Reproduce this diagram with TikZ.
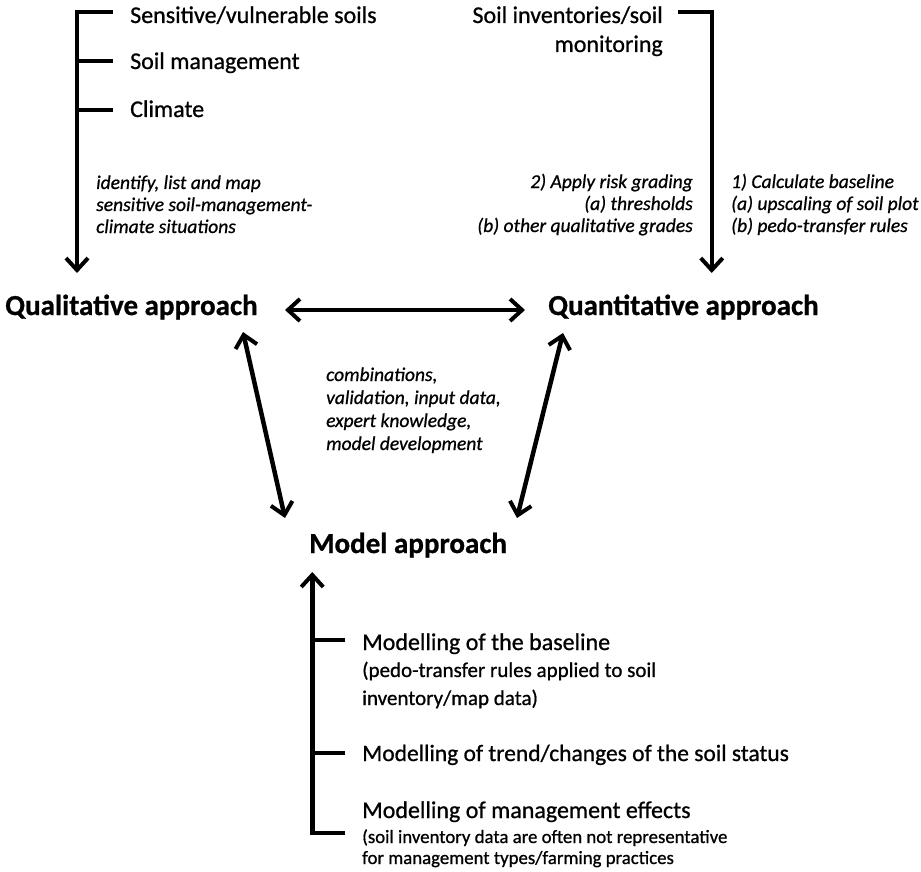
\documentclass[tikz,border=0pt]{standalone}
\usepackage{fontspec}
\setmainfont{Carlito}[UprightFeatures={FakeBold=0.8},ItalicFeatures={FakeBold=0.8},BoldFeatures={FakeBold=0.8}]
\usetikzlibrary{arrows.meta}
\tikzset{
  ln/.style={line width=4.5pt},
  barb/.tip={Straight Barb[length=12pt,width=22pt,line width=4pt]},
  arr/.style={ln,-barb},
  darr/.style={ln,barb-barb},
  item/.style={anchor=base west,inner sep=0pt,font=\fontsize{24}{29}\selectfont},
  iteme/.style={item,anchor=base east},
  head/.style={anchor=base west,inner sep=0pt,font=\fontsize{29}{34}\selectfont\bfseries},
  lab/.style={anchor=base west,inner sep=0pt,font=\fontsize{19.5}{23}\selectfont\itshape},
  labe/.style={lab,anchor=base east},
  small/.style={anchor=base west,inner sep=0pt,font=\fontsize{21}{28}\selectfont},
  tiny/.style={anchor=base west,inner sep=0pt,font=\fontsize{18.8}{22}\selectfont},
}
\begin{document}
\begin{tikzpicture}[x=1pt,y=-1pt]
\useasboundingbox (0,0) rectangle (921,872);
% top-left
\node[item] (sens) at (130,23) {Sensitive/vulnerable soils};
\node[item] (mgmt) at (130,69) {Soil management};
\node[item] (clim) at (130,117) {Climate};
\node[lab] (id1) at (96,189) {identify, list and map};
\node[lab] (id2) at (96,211) {sensitive soil-management-};
\node[lab] (id3) at (96,233) {climate situations};
\coordinate (tl0) at (77,12);
\coordinate (tl1) at (77,61);
\coordinate (tl2) at (77,110);
\coordinate (tlend) at (77,273);
\draw[ln] (113,12) -- (tl0);
\draw[ln] (113,61) -- (tl1);
\draw[ln] (113,110) -- (tl2);
\draw[arr] ([yshift=2.25pt]tl0) -- (tlend);
% top-right
\node[iteme] (inv1) at (663,23) {Soil inventories/soil};
\node[iteme] (inv2) at (663,52) {monitoring};
\coordinate (tr0) at (678,12);
\coordinate (tr1) at (714,12);
\coordinate (trend) at (714,273);
\draw[ln] (tr0) -- (tr1);
\draw[arr] ([xshift=-2.25pt]tr1) -- ([xshift=-2.25pt]trend);
\node[labe] (rk1) at (693,188) {2) Apply risk grading};
\node[labe] (rk2) at (693,210) {(a) thresholds};
\node[labe] (rk3) at (693,232) {(b) other qualitative grades};
\node[lab] (bs1) at (731,188) {1) Calculate baseline};
\node[lab] (bs2) at (731,210) {(a) upscaling of soil plot};
\node[lab] (bs3) at (731,232) {(b) pedo-transfer rules};
% headings
\node[head] (qual) at (5,315) {Qualitative approach};
\node[head] (quant) at (548,315) {Quantitative approach};
\node[head] (model) at (309,553) {Model approach};
\coordinate (h0) at (285,310);
\coordinate (h1) at (525,310);
\draw[darr] (h0) -- (h1);
\coordinate (l0) at (243,332);
\coordinate (l1) at (285,518);
\draw[darr] (l0) -- (l1);
\coordinate (r0) at (563,333);
\coordinate (r1) at (517,518);
\draw[darr] (r0) -- (r1);
\node[lab] (c1) at (326,381) {combinations,};
\node[lab] (c2) at (326,404) {validation, input data,};
\node[lab] (c3) at (326,427) {expert knowledge,};
\node[lab] (c4) at (326,450) {model development};
% bottom
\coordinate (b0) at (310,572);
\coordinate (b1) at (310,640);
\coordinate (b2) at (310,753);
\coordinate (b3) at (310,833);
\draw[ln] (345,640) -- (b1);
\draw[ln] (345,753) -- (b2);
\draw[arr] (345,833) -- ([xshift=2.25pt]b3) -- ([xshift=2.25pt]b0);
\node[item] (m1) at (362,650) {Modelling of the baseline};
\node[small] (m1a) at (362,677) {(pedo-transfer rules applied to soil};
\node[small] (m1b) at (362,705) {inventory/map data)};
\node[item,font=\fontsize{23.5}{29}\selectfont] (m2) at (362,761) {Modelling of trend/changes of the soil status};
\node[item] (m3) at (362,818) {Modelling of management effects};
\node[tiny] (m3a) at (362,843) {(soil inventory data are often not representative};
\node[tiny] (m3b) at (362,864) {for management types/farming practices};
\end{tikzpicture}
\end{document}
